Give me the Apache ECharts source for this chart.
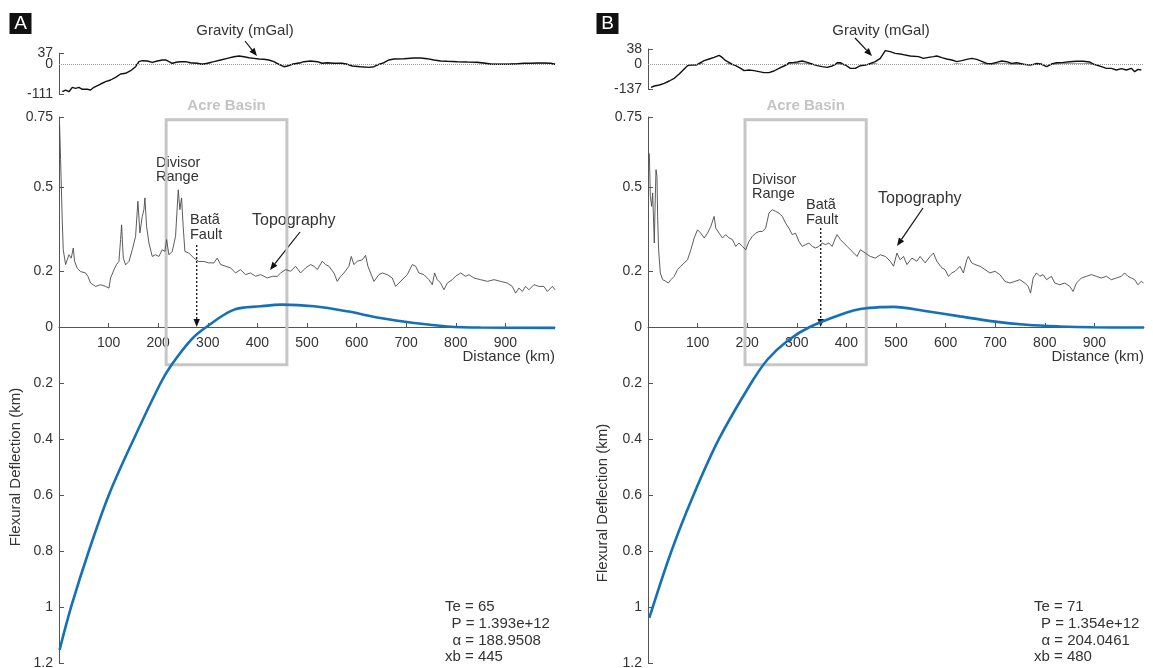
<!DOCTYPE html>
<html>
<head>
<meta charset="utf-8">
<title>Flexural deflection profiles</title>
<script src="https://cdn.jsdelivr.net/npm/echarts@6/dist/echarts.min.js"></script>
<style>
  html, body { margin: 0; padding: 0; background: #fff; }
  #chart { width: 1153px; height: 668px; }
</style>
</head>
<body>
<div id="chart"></div>
<script>
// values, distance in km
const gravA_km = [6.6, 13.3, 20, 26.8, 33.5, 40.1, 47, 57, 63.7, 70.4, 83.9, 94, 104, 114.1, 124.2, 134.3, 144.4, 154.4, 161.1, 167.9, 178, 188, 198.2, 208.3, 215, 221.6, 228.4, 235, 245, 255, 265.3, 278.8, 289, 299, 312.3, 326, 339.3, 352.6, 363, 372.8, 383, 393, 403, 413, 423, 433.3, 443.3, 453.4, 460.3, 470.4, 480.4, 487, 493.8, 507.3, 520.8, 530.8, 541, 554.3, 571, 581.2, 591.3, 608, 624.9, 635, 645, 655, 665.2, 675.3, 695.4, 715.6, 729, 742.5, 756, 769.4, 782.9, 803, 823.2, 843.3, 856.8, 870.3, 883.7, 897.2, 910.6, 924, 937.5, 951, 964.4, 977.8, 991.3, 1000];
const gravA = [-101.4, -95.1, -101.4, -85.2, -88.9, -85.2, -92.5, -92.5, -95.1, -85.2, -72.9, -64.4, -58.1, -48.3, -35.9, -33.3, -23.7, -8.9, 8.8, 12.1, 11.1, 6.7, 11.1, 14.5, 14.5, 8.8, 3.4, 6.7, 8.8, 8.8, 5.4, 3.4, 0, 3.4, 8.8, 14.5, 20.1, 25.5, 28, 25.5, 22.2, 20.1, 17.8, 16.8, 14.5, 8.8, 0, -8.9, -6.3, 0, 3.4, 5.4, 8.8, 11.1, 8.8, 3.4, 5.4, 3.4, 3.4, 0, -6.3, -8.9, -11.2, -8.9, 0, 5.4, 14.5, 17.8, 18.9, 21.2, 21.2, 18.9, 14.5, 11.1, 10.1, 8.8, 7.7, 6.7, 4.4, 1, 0, 0, 1, 2.1, 3.4, 3.4, 4.4, 4.4, 3.4, 0];

const gravB_km = [6, 12.7, 22.8, 32.8, 42.8, 52.9, 62.9, 73, 79.7, 86.4, 96.5, 103.2, 113.2, 123.3, 133.3, 143.4, 150.1, 156.8, 166.8, 176.9, 186.9, 193.6, 203.7, 213.7, 223.8, 233.8, 243.9, 253.9, 264, 274, 284.1, 294.1, 300.9, 311, 321, 331, 341.1, 351.2, 361.2, 371.3, 381.3, 388, 398, 408, 418, 428, 438.2, 448.2, 458.3, 468.3, 478.4, 488.4, 498.5, 511.9, 528.6, 545.4, 555.4, 565.5, 575.5, 582.3, 592.4, 602.4, 612.5, 622.6, 632.6, 642.7, 652.7, 662.8, 672.9, 683, 693, 703, 713.1, 723.2, 733.2, 743.3, 756.7, 770.1, 783.5, 793.6, 803.6, 813.7, 823.7, 837.2, 850.6, 864, 877.4, 890.8, 904.2, 914.2, 924.3, 934.3, 944.4, 954.5, 964.5, 974.5, 981.2, 987.9, 994.6];
const gravB = [-127.8, -120.4, -114.8, -105.6, -92.6, -77.8, -53.8, -26.1, -7.6, -3.9, -3.9, 2.4, 9, 13.2, 17.3, 22.3, 16.5, 9, 2.4, -7.6, -22.4, -35.3, -31.6, -35.3, -40.9, -46.4, -46.4, -37.2, -22.4, -9.4, 4, 4.9, 5.7, 8.2, 4.9, 0.8, -7.6, -13.1, -16.8, -9.4, 4, 4, -3.9, -22.4, -22.4, -8, -3.9, 2.4, 6.5, 14.8, 33.9, 31.4, 27.2, 24.8, 20.6, 19, 14.8, 17.3, 19, 20.6, 16.5, 13.2, 10.7, 6.5, 9, 12.3, 14.8, 12.3, 7.4, 2.4, 1.6, 4.9, 8.2, 6.5, 2.4, 4, 0, -3.9, 2.4, 0, -13.1, 0.8, 4, 4.9, 6.5, 7.4, 7.4, 5.7, -3.9, -13.1, -22.4, -22.4, -31.6, -24.2, -31.6, -22.4, -40.9, -27.9, -31.6];

const topoA_km = [1.2, 3.2, 6.5, 8.6, 13.3, 20, 24.7, 28.8, 31.5, 36.8, 43.5, 53.6, 58.3, 63.7, 73.8, 83.9, 94, 100.7, 104, 110.7, 116, 120.8, 124.2, 126.2, 129.6, 134.3, 141, 147.8, 154.4, 159.1, 163.1, 167.9, 171.2, 173.2, 176.6, 181.3, 188, 194.8, 201.4, 208.1, 213.5, 216.9, 221.6, 228.3, 235, 240.4, 243.7, 247.1, 250.4, 253.8, 261.9, 272, 282, 292, 302, 312.3, 319, 326, 336, 346, 356, 366, 376, 386, 396.4, 406.5, 420, 430, 440, 446.8, 456.9, 466.9, 477, 487.1, 497.2, 507.3, 514, 520.8, 530.8, 537.5, 544.2, 554.3, 561, 567.7, 574.5, 584.5, 589.3, 594.6, 601.4, 611.5, 618.1, 622.8, 628.2, 635, 645, 651.8, 661.9, 671.9, 678.6, 685.3, 695.4, 702.2, 712.3, 719, 725.6, 735.7, 745.8, 752.6, 757.3, 762.7, 769.4, 776.1, 782.9, 793, 799.6, 809.7, 819.8, 826.5, 836.6, 850, 863.7, 877, 890.3, 903.8, 913.9, 920.6, 927.2, 934.1, 940.7, 947.4, 957.5, 967.5, 977.6, 984.5, 994.6, 1000];
const topoA = [0.722, 0.598, 0.383, 0.276, 0.223, 0.258, 0.246, 0.282, 0.234, 0.21, 0.198, 0.193, 0.181, 0.157, 0.145, 0.151, 0.145, 0.139, 0.175, 0.204, 0.223, 0.234, 0.312, 0.365, 0.246, 0.222, 0.234, 0.276, 0.324, 0.449, 0.336, 0.395, 0.419, 0.461, 0.359, 0.3, 0.252, 0.258, 0.252, 0.276, 0.27, 0.312, 0.258, 0.27, 0.324, 0.49, 0.419, 0.461, 0.359, 0.27, 0.264, 0.246, 0.234, 0.234, 0.229, 0.229, 0.246, 0.223, 0.217, 0.211, 0.193, 0.205, 0.187, 0.193, 0.181, 0.187, 0.175, 0.181, 0.181, 0.193, 0.205, 0.199, 0.217, 0.193, 0.211, 0.223, 0.217, 0.205, 0.235, 0.223, 0.217, 0.193, 0.163, 0.181, 0.193, 0.217, 0.252, 0.223, 0.235, 0.24, 0.256, 0.217, 0.193, 0.163, 0.187, 0.193, 0.187, 0.175, 0.145, 0.157, 0.175, 0.187, 0.223, 0.217, 0.193, 0.187, 0.169, 0.151, 0.193, 0.169, 0.157, 0.133, 0.157, 0.169, 0.181, 0.193, 0.181, 0.187, 0.175, 0.169, 0.163, 0.169, 0.163, 0.157, 0.145, 0.121, 0.139, 0.127, 0.145, 0.133, 0.151, 0.145, 0.145, 0.127, 0.145, 0.133];

const topoB_km = [2.7, 4.7, 7.4, 9.4, 12.7, 14.1, 16.1, 18.1, 19.4, 21.4, 24.8, 29.5, 36.2, 40.9, 46.2, 52.9, 59.6, 66.3, 73, 79.7, 86.4, 93.1, 99.8, 106.5, 113.2, 120, 126.6, 133.3, 136.7, 143.4, 150.1, 156.8, 163.5, 170.2, 176.9, 183.6, 190.3, 197, 203.7, 210.4, 217.1, 223.8, 230.5, 237.2, 243.9, 250.6, 257.3, 264, 270.7, 277.4, 284.1, 290.8, 297.5, 304.2, 311, 317.6, 324.3, 331, 337.7, 344.4, 351.2, 357.8, 364.5, 371.3, 377.9, 381.3, 388, 394.7, 401.4, 408, 414.8, 421.5, 428.1, 438.2, 448.2, 458.3, 468.3, 478.4, 488.4, 495.1, 501.9, 508.5, 515.2, 522, 532, 542.1, 548.7, 558.8, 568.8, 575.5, 582.3, 592.4, 599, 605.6, 612.5, 619.1, 629.1, 635.8, 642.7, 645.8, 652.7, 659.3, 669.3, 679.4, 689.4, 699.5, 709.5, 719.6, 729.6, 739.7, 749.7, 759.8, 766.4, 771.3, 776.5, 783.3, 790, 796.6, 803.4, 813.5, 820.1, 830.2, 840.2, 850.3, 857, 863.8, 873.8, 883.9, 893.9, 904, 914, 924.1, 934.2, 944.2, 954.3, 961, 967.6, 974.5, 981.1, 987.7, 994.6, 999];
const topoB = [0.62, 0.467, 0.431, 0.479, 0.3, 0.419, 0.562, 0.538, 0.395, 0.276, 0.193, 0.169, 0.163, 0.157, 0.169, 0.181, 0.205, 0.217, 0.229, 0.24, 0.276, 0.318, 0.347, 0.335, 0.318, 0.335, 0.359, 0.395, 0.353, 0.335, 0.318, 0.33, 0.318, 0.312, 0.288, 0.3, 0.288, 0.276, 0.306, 0.324, 0.335, 0.341, 0.341, 0.353, 0.407, 0.419, 0.413, 0.407, 0.395, 0.371, 0.353, 0.33, 0.335, 0.306, 0.288, 0.294, 0.3, 0.288, 0.282, 0.288, 0.3, 0.294, 0.3, 0.288, 0.318, 0.33, 0.312, 0.3, 0.288, 0.276, 0.264, 0.252, 0.276, 0.264, 0.252, 0.246, 0.258, 0.252, 0.235, 0.217, 0.264, 0.24, 0.252, 0.223, 0.246, 0.235, 0.252, 0.229, 0.252, 0.264, 0.235, 0.211, 0.205, 0.181, 0.193, 0.199, 0.217, 0.193, 0.24, 0.252, 0.229, 0.223, 0.217, 0.205, 0.193, 0.199, 0.187, 0.163, 0.157, 0.163, 0.169, 0.157, 0.145, 0.121, 0.175, 0.193, 0.181, 0.187, 0.169, 0.181, 0.157, 0.151, 0.157, 0.145, 0.127, 0.157, 0.175, 0.181, 0.187, 0.181, 0.175, 0.181, 0.169, 0.175, 0.181, 0.193, 0.181, 0.175, 0.169, 0.151, 0.163, 0.157];

// flexural deflection, km, positive = downward
const deflA_km = [1.2, 24.7, 60.3, 100.7, 151, 204.9, 227, 266.7, 297, 353, 406.5, 450, 514, 581, 648, 716, 783, 850, 1000];
const deflA = [1.153, 0.998, 0.799, 0.599, 0.399, 0.2, 0.135, 0.045, 0, -0.062, -0.074, -0.08, -0.074, -0.056, -0.032, -0.014, -0.002, 0.002, 0.003];
const deflB_km = [2.6, 47.5, 92, 143.4, 208, 240.6, 280.8, 326, 401, 428, 468, 495, 562, 629, 696, 763, 830, 897, 1000];
const deflB = [1.039, 0.799, 0.599, 0.399, 0.2, 0.117, 0.05, 0, -0.052, -0.064, -0.071, -0.072, -0.056, -0.038, -0.02, -0.008, -0.002, 0.001, 0.002];

const basinA = [216, 459.5];
const basinB = [195.6, 440];
const yTicks = [-1.2, -1, -0.8, -0.6, -0.4, -0.2, 0, 0.2, 0.5, 0.75];
const gravTicksA = [-111, 0, 37];
const gravTicksB = [-137, 0, 38];
const paramsA = ['Te = 65', 'P = 1.393e+12', 'α = 188.9508', 'xb = 445'];
const paramsB = ['Te = 71', 'P = 1.354e+12', 'α = 204.0461', 'xb = 480'];

const FONT = 'Liberation Sans, Arial, sans-serif';
const TXT = '#333';
const AX = '#555';

const zip = (xs, ys) => xs.map((x, i) => [x, ys[i]]);

const chart = echarts.init(document.getElementById('chart'));

function grid(left, top, height) {
  return { left: left, top: top, width: 496, height: height, outerBoundsMode: 'none', containLabel: false };
}

function hiddenX(i) {
  return { type: 'value', gridIndex: i, min: 0, max: 1000, show: false };
}
// distance axis: sits on a strip whose bottom edge is the zero line of the main plot
function distX(i) {
  return {
    type: 'value', gridIndex: i, min: 0, max: 1000, interval: 100, position: 'bottom',
    axisLine: { onZero: false, lineStyle: { color: AX, width: 1 } },
    axisTick: { inside: true, length: 4, lineStyle: { color: AX } },
    axisLabel: {
      show: true, fontSize: 14, color: TXT, margin: 9, fontFamily: FONT,
      showMinLabel: false, showMaxLabel: false,
      formatter: (v) => (v === 0 || v === 1000 ? '' : String(v))
    },
    splitLine: { show: false }
  };
}
function hiddenY(i) {
  return { type: 'value', gridIndex: i, min: 0, max: 0.75, show: false };
}
// bracket-style axis for one half of a gravity strip
function gravY(i, min, max, labels, ticks) {
  return {
    type: 'value', gridIndex: i, min: min, max: max,
    axisLine: { show: true, onZero: false, lineStyle: { color: AX, width: 1 } },
    axisTick: { show: true, inside: true, length: 5, customValues: ticks, lineStyle: { color: AX } },
    axisLabel: {
      customValues: labels, fontSize: 14, color: TXT, margin: 6, fontFamily: FONT,
      hideOverlap: false, showMinLabel: true, showMaxLabel: true
    },
    splitLine: { show: false }
  };
}
function mainY(i) {
  return {
    type: 'value', gridIndex: i, min: -1.2, max: 0.75,
    axisLine: { show: true, onZero: false, lineStyle: { color: AX, width: 1 } },
    axisTick: { show: true, inside: true, length: 5, customValues: yTicks, lineStyle: { color: AX } },
    axisLabel: {
      customValues: yTicks, fontSize: 14, color: TXT, margin: 6, fontFamily: FONT,
      hideOverlap: false, showMinLabel: true, showMaxLabel: true,
      formatter: (v) => String(Math.round(Math.abs(v) * 100) / 100)
    },
    splitLine: { show: false }
  };
}

function gravSeries(i, km, vals, zeroLine) {
  const s = {
    type: 'line', xAxisIndex: i, yAxisIndex: i, data: zip(km, vals),
    showSymbol: false, silent: true, clip: true,
    lineStyle: { color: '#111', width: 1.4 }
  };
  if (zeroLine) {
    s.markLine = {
      silent: true, symbol: 'none', label: { show: false },
      lineStyle: { color: '#9a9a9a', type: 'dotted', width: 1 },
      data: [{ yAxis: 0 }]
    };
  }
  return s;
}
function topoSeries(i, km, vals, basin) {
  return {
    type: 'line', xAxisIndex: i, yAxisIndex: i, data: zip(km, vals),
    showSymbol: false, silent: true,
    lineStyle: { color: '#4a4a4a', width: 0.9 },
    markArea: {
      silent: true,
      itemStyle: { color: 'rgba(0,0,0,0)', borderColor: '#c6c6c6', borderWidth: 3 },
      label: {
        show: true, position: 'top', distance: 5, color: '#c4c4c4',
        fontWeight: 'bold', fontSize: 15, fontFamily: FONT
      },
      data: [[{ name: 'Acre Basin', coord: [basin[0], 0.74] }, { coord: [basin[1], -0.135] }]]
    }
  };
}
function deflSeries(i, km, vals) {
  return {
    type: 'line', xAxisIndex: i, yAxisIndex: i, data: zip(km, vals.map((v) => -v)),
    showSymbol: false, silent: true, smooth: 0.35,
    lineStyle: { color: '#1570b5', width: 2.6 }
  };
}

// annotation helpers (pixel layout)
function text(x, y, s, opt) {
  return Object.assign({
    type: 'text', x: x, y: y, silent: true,
    style: Object.assign({
      text: s, fill: TXT, fontSize: 15, fontFamily: FONT,
      textAlign: 'left', align: 'left', textVerticalAlign: 'middle', verticalAlign: 'middle'
    }, opt && opt.style)
  }, opt && opt.el);
}
function arrow(x1, y1, x2, y2, dashed) {
  const a = Math.atan2(y2 - y1, x2 - x1);
  const L = 8, H = 3.2;
  const bx = x2 - L * Math.cos(a), by = y2 - L * Math.sin(a);
  const px = -Math.sin(a) * H, py = Math.cos(a) * H;
  return [
    { type: 'line', silent: true, shape: { x1: x1, y1: y1, x2: bx, y2: by },
      style: { stroke: '#111', lineWidth: dashed ? 1.3 : 1.2, lineDash: dashed ? [2, 2] : null } },
    { type: 'polygon', silent: true, shape: { points: [[x2, y2], [bx + px, by + py], [bx - px, by - py]] },
      style: { fill: '#111' } }
  ];
}
function badge(x, y, s) {
  return [
    { type: 'rect', silent: true, shape: { x: x, y: y, width: 22, height: 21 }, style: { fill: '#111' } },
    text(x + 11, y + 11, s, { style: { fill: '#fff', fontSize: 19, textAlign: 'center', align: 'center' } })
  ];
}
function params(x, y0, lines, offs) {
  return lines.map((s, k) => text(x + offs[k], y0 + k * 16.7, s));
}

const graphics = [].concat(
  badge(9.5, 13, 'A'), badge(596.5, 13, 'B'),
  [text(245, 31, 'Gravity (mGal)', { style: { textAlign: 'center', align: 'center' } })],
  arrow(245, 41, 257, 56),
  [text(881, 31, 'Gravity (mGal)', { style: { textAlign: 'center', align: 'center' } })],
  arrow(855, 38, 872, 56),
  [text(156, 170, 'Divisor\nRange', { style: { fontSize: 14.5, lineHeight: 14.5 } })],
  [text(752, 187, 'Divisor\nRange', { style: { fontSize: 14.5, lineHeight: 14 } })],
  [text(190, 227, 'Batã\nFault', { style: { fontSize: 14.5, lineHeight: 15 } })],
  [text(806, 212, 'Batã\nFault', { style: { fontSize: 14.5, lineHeight: 15 } })],
  arrow(196.7, 245, 196.7, 327, true),
  arrow(820.7, 228, 820.7, 327, true),
  [text(252, 221, 'Topography', { style: { fontSize: 16 } })],
  arrow(300, 232, 270, 270),
  [text(878, 199, 'Topography', { style: { fontSize: 16 } })],
  arrow(923, 208, 897, 246),
  [text(555, 357, 'Distance (km)', { style: { textAlign: 'right', align: 'right' } })],
  [text(1144, 357, 'Distance (km)', { style: { textAlign: 'right', align: 'right' } })],
  [text(16, 467, 'Flexural Deflection (km)', { el: { rotation: Math.PI / 2 }, style: { textAlign: 'center', align: 'center' } })],
  [text(603, 503, 'Flexural Deflection (km)', { el: { rotation: Math.PI / 2 }, style: { textAlign: 'center', align: 'center' } })],
  params(445, 607, paramsA, [0, 6.5, 7.5, 0]),
  params(1034, 607, paramsB, [0, 7, 7.5, 0])
);

// main plot: 1.95 units over 546 px, so zero sits 210 px below the top (y = 327).
// The gravity strips are labelled with different scales above and below zero,
// so each is drawn as two stacked halves that meet at 0.
chart.setOption({
  animation: false,
  backgroundColor: '#fff',
  textStyle: { fontFamily: FONT },
  grid: [
    grid(59, 53.3, 11), grid(59, 117, 546),
    grid(648, 49, 15.3), grid(648, 117, 546), grid(648, 64.3, 24.7),
    grid(59, 117, 210), grid(648, 117, 210),
    grid(59, 64.3, 30)
  ],
  xAxis: [hiddenX(0), hiddenX(1), hiddenX(2), hiddenX(3), hiddenX(4), distX(5), distX(6), hiddenX(7)],
  yAxis: [
    gravY(0, 0, gravTicksA[2], [gravTicksA[2]], [gravTicksA[2]]),
    mainY(1),
    gravY(2, 0, gravTicksB[2], [gravTicksB[2]], [gravTicksB[2]]),
    mainY(3),
    gravY(4, gravTicksB[0], 0, [gravTicksB[0], 0], [gravTicksB[0]]),
    hiddenY(5), hiddenY(6),
    gravY(7, gravTicksA[0], 0, [gravTicksA[0], 0], [gravTicksA[0]])
  ],
  series: [
    gravSeries(0, gravA_km, gravA, true),
    gravSeries(7, gravA_km, gravA, false),
    topoSeries(1, topoA_km, topoA, basinA),
    deflSeries(1, deflA_km, deflA),
    gravSeries(2, gravB_km, gravB, true),
    gravSeries(4, gravB_km, gravB, false),
    topoSeries(3, topoB_km, topoB, basinB),
    deflSeries(3, deflB_km, deflB)
  ],
  graphic: graphics
});
</script>
</body>
</html>
